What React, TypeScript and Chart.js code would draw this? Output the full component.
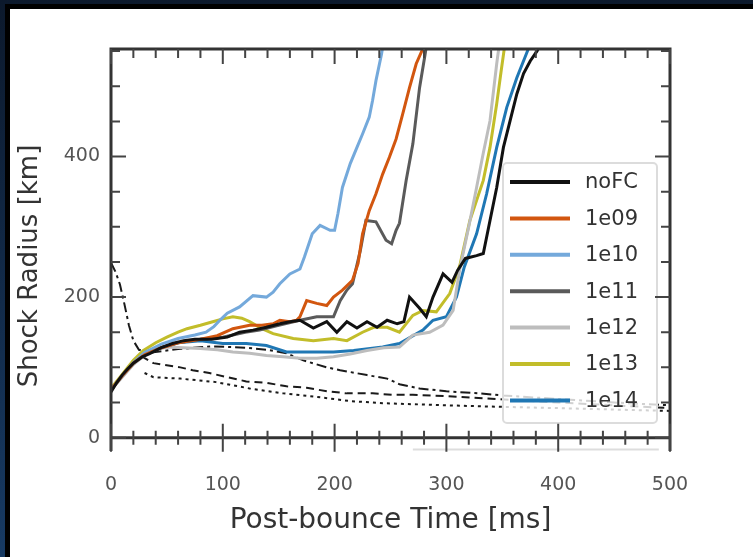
import React, { useEffect, useRef } from "react";
import { Chart, registerables } from "chart.js";

Chart.register(...registerables);

type P = [number, number];

// ---------- data ----------
const xTickValues = [0, 100, 200, 300, 400, 500];
const yTickValues = [0, 200, 400];
const seriesLabels = ["noFC", "1e09", "1e10", "1e11", "1e12", "1e13", "1e14"];
const seriesColors = ["#111111", "#d2560f", "#74a9db", "#5a5a5a", "#bdbdbd", "#c2bd2a", "#1f77b4"];

const noFC: P[] = [
  [0, 65], [5, 78], [10, 89], [15, 98], [20, 106], [28, 115], [35, 120], [45, 128], [55, 134], [65, 138],
  [75, 140], [90, 140], [104, 143], [115, 150], [127, 153], [139, 157], [151, 162], [160, 165], [169, 167],
  [181, 156], [193, 165], [202, 150], [211, 165], [220, 156], [229, 165], [238, 157], [247, 167], [256, 162],
  [262, 165], [267, 200], [276, 184], [282, 172], [288, 200], [297, 233], [305, 221], [310, 238], [317, 255],
  [327, 259], [333, 262], [339, 309], [345, 356], [351, 413], [357, 451], [363, 489], [369, 518], [375, 536],
  [381, 550], [383, 556],
];
const fc1e09: P[] = [
  [0, 68], [10, 88], [20, 106], [30, 118], [45, 128], [60, 135], [80, 140], [95, 145], [109, 155], [124, 160],
  [135, 160], [145, 162], [151, 167], [160, 165], [166, 167], [169, 172], [175, 195], [184, 191], [193, 188],
  [199, 200], [207, 210], [216, 224], [221, 248], [225, 290], [231, 323], [237, 347], [243, 375], [249, 399],
  [255, 425], [261, 461], [267, 498], [273, 532], [278, 550], [279, 556],
];
const fc1e10: P[] = [
  [0, 68], [10, 88], [20, 107], [30, 121], [45, 133], [60, 141], [75, 146], [85, 150], [92, 158], [98, 168],
  [104, 177], [115, 186], [127, 202], [139, 200], [145, 207], [151, 219], [160, 233], [169, 240], [173, 257],
  [180, 290], [187, 302], [196, 295], [200, 295], [203, 319], [207, 356], [214, 390], [220, 413], [225, 432],
  [231, 456], [234, 480], [237, 508], [242, 546], [243, 556],
];
const fc1e11: P[] = [
  [0, 68], [10, 88], [20, 106], [30, 118], [45, 128], [60, 135], [80, 140], [100, 143], [120, 150], [133, 153],
  [150, 160], [169, 167], [184, 172], [199, 172], [205, 195], [211, 210], [216, 219], [223, 266], [228, 309],
  [237, 307], [246, 281], [251, 276], [255, 295], [258, 305], [264, 366], [270, 418], [276, 498], [281, 546],
  [282, 556],
];
const fc1e12: P[] = [
  [0, 68], [10, 86], [20, 104], [30, 117], [40, 125], [50, 129], [65, 128], [80, 127], [95, 125], [109, 122],
  [124, 120], [139, 117], [154, 115], [169, 113], [184, 113], [199, 115], [214, 119], [229, 124], [244, 128],
  [258, 129], [270, 146], [285, 150], [297, 160], [306, 181], [312, 240], [320, 300], [327, 356], [333, 405],
  [339, 451], [345, 532], [347, 556],
];
const fc1e13: P[] = [
  [0, 70], [10, 90], [20, 110], [29, 124], [40, 135], [50, 143], [60, 150], [68, 155], [80, 160], [91, 165],
  [100, 169], [109, 172], [117, 170], [124, 165], [135, 155], [145, 148], [163, 141], [181, 138], [199, 141],
  [211, 138], [225, 150], [235, 157], [247, 157], [258, 150], [270, 174], [279, 181], [291, 179], [303, 205],
  [312, 245], [321, 309], [333, 366], [339, 413], [345, 475], [349, 522], [352, 556],
];
const fc1e14: P[] = [
  [0, 68], [10, 87], [20, 105], [30, 118], [45, 128], [60, 135], [80, 138], [100, 134], [121, 134], [139, 131],
  [157, 122], [181, 122], [199, 122], [217, 124], [243, 129], [258, 134], [279, 153], [288, 167], [300, 172],
  [309, 200], [316, 243], [327, 290], [336, 347], [345, 413], [354, 470], [363, 512], [372, 548], [374, 556],
];
const seriesData: P[][] = [noFC, fc1e09, fc1e10, fc1e11, fc1e12, fc1e13, fc1e14];

// extra (unlabelled) reference curves
const dashDotCurve: P[] = [
  [0, 249], [4, 236], [8, 218], [12, 190], [16, 160], [20, 138], [25, 125], [35, 121], [60, 126], [90, 130],
  [120, 128], [140, 125], [157, 120], [172, 110], [193, 100], [205, 96], [229, 89], [247, 84], [258, 76],
  [276, 70], [300, 66], [330, 63], [350, 60], [400, 55], [450, 50], [500, 46],
];
const dashedCurve: P[] = [
  [27, 116], [38, 106], [62, 100], [73, 96], [88, 92], [104, 86], [121, 80], [139, 78], [157, 73], [175, 71],
  [193, 66], [211, 63], [234, 63], [252, 61], [270, 61], [300, 59], [345, 55], [400, 50], [450, 46], [500, 42],
];
const dottedCurve: P[] = [
  [30, 92], [38, 86], [62, 84], [94, 79], [124, 70], [154, 63], [184, 58], [214, 52], [243, 49], [300, 46],
  [345, 44], [400, 42], [450, 40], [500, 38],
];
const belowZeroCurve: P[] = [[270, -17], [490, -17]];

const X_MIN = 0, X_MAX = 500, Y_MIN = -19, Y_MAX = 553;
const FONT = "'DejaVu Sans', sans-serif";

const toPts = (d: P[]) => d.map(([x, y]) => ({ x, y }));

const decorPlugin = {
  id: "decor",
  afterDatasetsDraw(chart: any) {
    const { ctx, chartArea: a, scales } = chart;
    const xs = scales.x, ys = scales.y;
    ctx.save();
    // legend
    const lx = a.right - 167, ly = a.top + 114, lw = 154, lh = 260;
    ctx.beginPath();
    (ctx as any).roundRect(lx, ly, lw, lh, 4);
    ctx.fillStyle = "rgba(255,255,255,0.8)";
    ctx.fill();
    ctx.strokeStyle = "#dcdcdc";
    ctx.lineWidth = 2;
    ctx.stroke();
    ctx.font = `21px ${FONT}`;
    ctx.textBaseline = "middle";
    ctx.textAlign = "left";
    chart.data.datasets.forEach((ds: any, i: number) => {
      if (!ds.inLegend) return;
      const yy = ly + 19 + i * 36.4;
      ctx.beginPath();
      ctx.strokeStyle = ds.borderColor;
      ctx.lineWidth = 4;
      ctx.moveTo(lx + 7, yy);
      ctx.lineTo(lx + 67, yy);
      ctx.stroke();
      ctx.fillStyle = "#333";
      ctx.fillText(ds.label, lx + 82, yy + 1);
    });

    // frame
    ctx.strokeStyle = "#333";
    ctx.lineWidth = 3;
    ctx.beginPath();
    ctx.moveTo(a.left, a.bottom);
    ctx.lineTo(a.left, a.top);
    ctx.lineTo(a.right, a.top);
    ctx.lineTo(a.right, a.bottom);
    ctx.stroke();
    const y0 = ys.getPixelForValue(0);
    ctx.beginPath();
    ctx.moveTo(a.left, y0);
    ctx.lineTo(a.right, y0);
    ctx.stroke();

    // ticks
    ctx.lineWidth = 2;
    ctx.strokeStyle = "#444";
    for (let t = X_MIN; t <= X_MAX; t += 20) {
      const px = xs.getPixelForValue(t);
      const major = t % 100 === 0;
      const L = major ? 15 : 9;
      ctx.beginPath();
      ctx.moveTo(px, a.top);
      ctx.lineTo(px, a.top + L);
      ctx.moveTo(px, y0 - (major ? 14 : 7));
      ctx.lineTo(px, y0 + (major ? 14 : 7));
      ctx.stroke();
    }
    for (let v = 0; v <= 550; v += 50) {
      const py = ys.getPixelForValue(v);
      const major = v % 200 === 0;
      const L = major ? 15 : 9;
      ctx.beginPath();
      ctx.moveTo(a.left, py);
      ctx.lineTo(a.left + L, py);
      ctx.moveTo(a.right, py);
      ctx.lineTo(a.right - L, py);
      ctx.stroke();
    }

    // axis titles
    ctx.fillStyle = "#333";
    ctx.textAlign = "center";
    ctx.textBaseline = "middle";
    ctx.font = `28px ${FONT}`;
    ctx.fillText("Post-bounce Time [ms]", (a.left + a.right) / 2, 521);
    ctx.font = `26px ${FONT}`;
    ctx.translate(30, 266);
    ctx.rotate(-Math.PI / 2);
    ctx.fillText("Shock Radius [km]", 0, 0);
    ctx.restore();
  },
};

export default function App() {
  const ref = useRef<HTMLCanvasElement | null>(null);
  useEffect(() => {
    if (!ref.current) return;
    const main = seriesData.map((d, i) => ({
      label: seriesLabels[i],
      inLegend: true,
      data: toPts(d),
      borderColor: seriesColors[i],
      borderWidth: 3,
      pointRadius: 0,
      fill: false,
      tension: 0,
    }));
    const extra = [
      { d: dashDotCurve, dash: [10, 4, 3, 4], color: "#1a1a1a", w: 2 },
      { d: dashedCurve, dash: [8, 5], color: "#1a1a1a", w: 2 },
      { d: dottedCurve, dash: [3, 4], color: "#1a1a1a", w: 2 },
      { d: belowZeroCurve, dash: [], color: "#dddddd", w: 2 },
    ].map((e, i) => ({
      label: "ref" + i,
      inLegend: false,
      data: toPts(e.d),
      borderColor: e.color,
      borderWidth: e.w,
      borderDash: e.dash,
      pointRadius: 0,
      fill: false,
      tension: 0,
    }));
    const chart = new Chart(ref.current, {
      type: "line",
      data: { datasets: [...main, ...extra] as any },
      options: {
        responsive: false,
        animation: false,
        devicePixelRatio: 1,
        layout: { padding: { top: 49, right: 83, left: 0, bottom: 0 } },
        plugins: { legend: { display: false }, tooltip: { enabled: false } },
        scales: {
          x: {
            type: "linear",
            min: X_MIN,
            max: X_MAX,
            grid: { display: false, drawTicks: false },
            border: { display: false },
            afterBuildTicks: (s: any) => { s.ticks = xTickValues.map((v) => ({ value: v })); },
            afterFit: (s: any) => { s.height = 106; },
            ticks: { color: "#555", font: { family: FONT, size: 19 }, padding: 23, maxRotation: 0 },
          },
          y: {
            type: "linear",
            min: Y_MIN,
            max: Y_MAX,
            grid: { display: false, drawTicks: false },
            border: { display: false },
            afterBuildTicks: (s: any) => { s.ticks = yTickValues.map((v) => ({ value: v })); },
            afterFit: (s: any) => { s.width = 111; },
            ticks: { color: "#555", font: { family: FONT, size: 19 }, padding: 11 },
          },
        },
      },
      plugins: [decorPlugin],
    });
    return () => chart.destroy();
  }, []);

  return (
    <div style={{ position: "fixed", left: 0, top: 0, width: 753, height: 557, background: "linear-gradient(#0c192c, #173a63)" }}>
      <div style={{ position: "absolute", left: 5, top: 4, right: 0, bottom: 0, background: "#fff", borderLeft: "5px solid #000", borderTop: "5px solid #000" }} />
      <canvas ref={ref} width={753} height={557} style={{ position: "absolute", left: 0, top: 0 }} />
    </div>
  );
}
